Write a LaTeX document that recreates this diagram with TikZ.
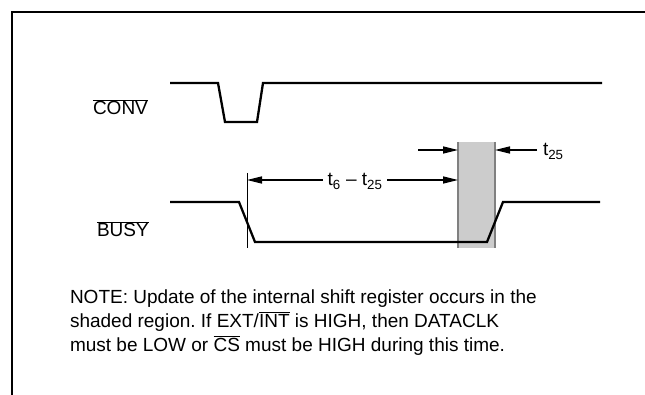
\documentclass[tikz,border=0pt]{standalone}
\usepackage{fontspec}
\setmainfont{Liberation Sans}
\usetikzlibrary{arrows.meta}

\definecolor{shadeGray}{rgb}{0.8,0.8,0.8}
\definecolor{edgeGray}{rgb}{0.5,0.5,0.5}
\definecolor{strokecol}{rgb}{0,0,0}

\newcommand{\ovl}[1]{$\overline{\mbox{#1}}$}
\frenchspacing

\tikzset{
  signal/.style={draw=strokecol, line width=2.3pt, line join=miter},
  dimarrow/.style={draw=strokecol, line width=1.4pt, -{Triangle[length=15pt,width=7pt]}},
  lbl/.style={inner sep=0, outer sep=0, font=\fontsize{19}{24}\selectfont},
}

\begin{document}
\begin{tikzpicture}[x=1pt, y=-1pt]
    \useasboundingbox (0,0) rectangle (645,395);

    \def\convHi{83}
    \def\convLo{122}
    \def\busyHi{202}
    \def\busyLo{242}

    % frame
    \draw[draw=strokecol, line width=2.3pt] (12,395) |- (645,12);

    % shaded region
    \fill[shadeGray] (458,142) rectangle (495,248);
    \draw[edgeGray, line width=1.3pt] (458,142) -- (458,248);
    \draw[edgeGray, line width=1.3pt] (495,142) -- (495,248);

    % CONV
    \node[lbl, anchor=base west] (conv) at (93,115) {\ovl{CONV}};
    \draw[signal] (170,\convHi) -- (218,\convHi) -- (225,\convLo) -- (257,\convLo) -- (263,\convHi) -- (602,\convHi);

    % BUSY
    \node[lbl, anchor=base west] (busy) at (97,237) {\ovl{BUSY}};
    \draw[signal] (170,\busyHi) -- (239,\busyHi) -- (255,\busyLo) -- (487,\busyLo) -- (503,\busyHi) -- (600,\busyHi);

    % timing marks
    \coordinate (markTop) at (247,173);
    \coordinate (markBot) at (247,248);
    \draw[draw=strokecol, line width=0.8pt] (markTop) -- (markBot);

    \coordinate (mark) at (247,180);
    \coordinate (shadeL) at (458,180);
    \node[lbl, anchor=base, inner sep=5pt] (t6) at (355,186) {t\textsubscript{6} – t\textsubscript{25}};
    \draw[dimarrow] (t6.west |- mark) -- (mark);
    \draw[dimarrow] (t6.east |- shadeL) -- (shadeL);

    \coordinate (inL) at (418,150);
    \coordinate (shadeLtop) at (458,150);
    \coordinate (inR) at (537,150);
    \coordinate (shadeRtop) at (495,150);
    \draw[dimarrow] (inL) -- (shadeLtop);
    \draw[dimarrow] (inR) -- (shadeRtop);
    \node[lbl, anchor=base west] (t25) at (543,156) {t\textsubscript{25}};

    % note
    \node[lbl, anchor=base west] (note1) at (70,303) {NOTE: Update of the internal shift register occurs in the};
    \node[lbl, anchor=base west] (note2) at (70,327) {shaded region. If EXT/\ovl{INT} is HIGH, then DATACLK};
    \node[lbl, anchor=base west] (note3) at (70,351) {must be LOW or \ovl{CS} must be HIGH during this time.};
\end{tikzpicture}
\end{document}
